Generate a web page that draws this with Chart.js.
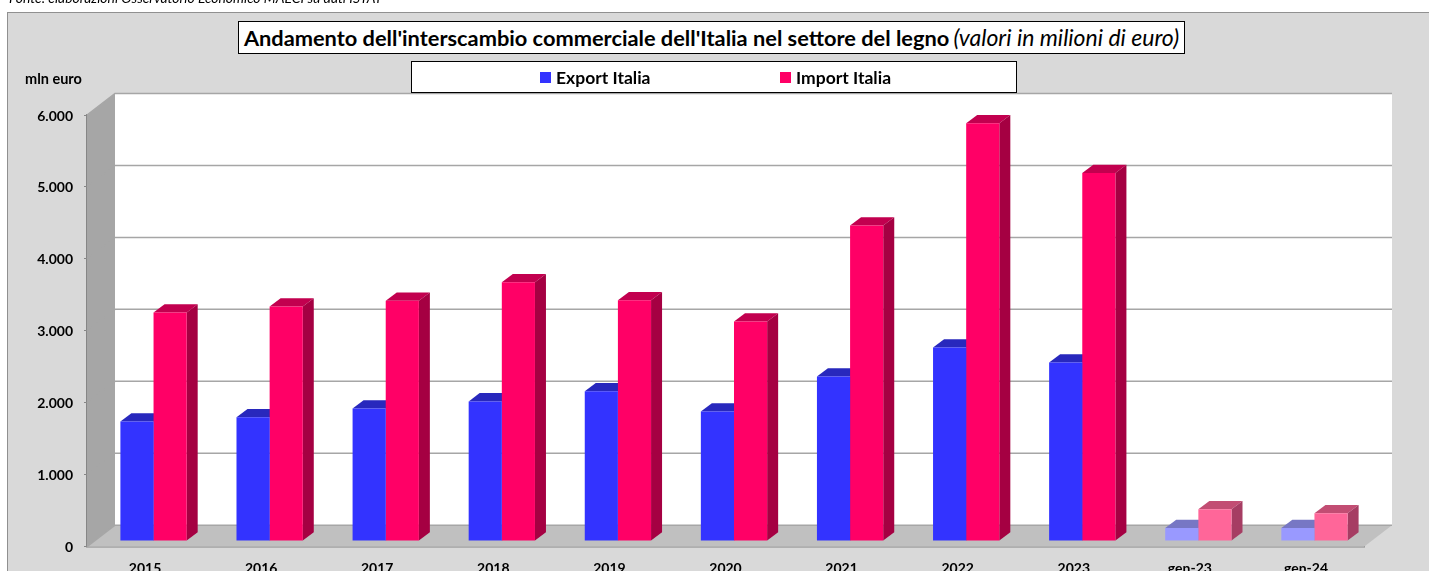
<!DOCTYPE html>
<html>
<head>
<meta charset="utf-8">
<script src="https://cdn.jsdelivr.net/npm/chart.js@4"></script>
<style>
  html, body { margin: 0; padding: 0; background: #fff; overflow: hidden; }
  #page { position: relative; width: 1429px; height: 571px; overflow: hidden; font-family: Lato, sans-serif; color: #000; }
  #frame { position: absolute; left: 7px; top: 12px; width: 1440px; height: 600px; background: #d9d9d9; border: 1px solid #909090; }
  #chart-wrap { position: absolute; left: 0; top: 0; width: 1429px; height: 571px; }
  #source { position: absolute; left: 9px; top: -11px; font-size: 13.9px; font-style: italic; white-space: nowrap; }
  #title { position: absolute; left: 238px; top: 21px; width: 945px; height: 31px; line-height: 31px; background: #fff; border: 1px solid #000; text-align: center; white-space: nowrap; }
  #title b { font-weight: 700; font-size: 21.8px; }
  #title i { font-weight: 400; font-size: 23px; }
  #legend { position: absolute; left: 411px; top: 61px; width: 604px; height: 30px; background: #fff; border: 1px solid #000; font-size: 17.5px; font-weight: 700; line-height: 32px; }
  .key { position: absolute; top: 0; white-space: nowrap; }
  .swatch { position: absolute; top: 10px; left: -16px; width: 11px; height: 11px; }
  #unit { position: absolute; left: 25px; top: 70px; font-size: 14.5px; font-weight: 700; white-space: nowrap; }
</style>
</head>
<body>
<div id="page">
  <div id="frame"></div>
  <div id="chart-wrap"><canvas id="chart" width="1429" height="571"></canvas></div>
  <div id="source">Fonte: elaborazioni Osservatorio Economico MAECI su dati ISTAT</div>
  <div id="title"><b>Andamento dell'interscambio commerciale dell'Italia nel settore del legno</b> <i>(valori in milioni di euro)</i></div>
  <div id="legend">
    <span class="key" style="left:144px"><span class="swatch" style="background:#3333ff"></span>Export Italia</span>
    <span class="key" style="left:384px"><span class="swatch" style="background:#ff0066"></span>Import Italia</span>
  </div>
  <div id="unit">mln euro</div>
</div>
<script>
// values, milioni di euro
const categories = ['2015', '2016', '2017', '2018', '2019', '2020', '2021', '2022', '2023', 'gen-23', 'gen-24']
const exportValues = [1660, 1720, 1840, 1940, 2080, 1800, 2285, 2690, 2480, 180, 180]
const importValues = [3175, 3260, 3340, 3595, 3345, 3050, 4385, 5805, 5115, 440, 385]
const yTickLabels = ['0', '1.000', '2.000', '3.000', '4.000', '5.000', '6.000']

// the last two categories (single months) are paler
const monthly = c => c.startsWith('gen')
const exportFront = categories.map(c => monthly(c) ? '#9999ff' : '#3333ff')
const importFront = categories.map(c => monthly(c) ? '#ff6699' : '#ff0066')
const exportTop = categories.map(c => monthly(c) ? '#7777c4' : '#2828bd')
const importTop = categories.map(c => monthly(c) ? '#c24d73' : '#c2004f')
const importSide = categories.map(c => monthly(c) ? '#a63d63' : '#a50042')

// fake 3d, excel style
const WALL_DX = 28, WALL_DY = -21.5   // front of the floor -> back wall
const BAR_DX = 8.5, BAR_DY = -5.7     // front of the floor -> front of the bars
const DEPTH_X = 11, DEPTH_Y = -8.3    // thickness of a bar

const poly = (ctx, pts, fill) => {
  ctx.beginPath()
  pts.forEach((p, i) => i ? ctx.lineTo(p[0], p[1]) : ctx.moveTo(p[0], p[1]))
  ctx.closePath()
  ctx.fillStyle = fill
  ctx.fill()
}

const box3d = {
  id: 'box3d',
  beforeDatasetsDraw(chart) {
    const { ctx, chartArea: a, scales: { y } } = chart
    ctx.save()
    const base = y.getPixelForValue(0)
    const top = y.getPixelForValue(6000)
    // back wall, side wall, floor
    poly(ctx, [[a.left + WALL_DX, top + WALL_DY], [a.right + WALL_DX, top + WALL_DY], [a.right + WALL_DX, base + WALL_DY], [a.left + WALL_DX, base + WALL_DY]], '#ffffff')
    poly(ctx, [[a.left, top], [a.left + WALL_DX, top + WALL_DY], [a.left + WALL_DX, base + WALL_DY], [a.left, base]], '#a6a6a6')
    poly(ctx, [[a.left, base], [a.left + WALL_DX, base + WALL_DY], [a.right + WALL_DX, base + WALL_DY], [a.right, base]], '#c0c0c0')
    // grid lines follow the walls
    ctx.lineWidth = 1.5
    ctx.strokeStyle = '#a6a6a6'
    y.ticks.forEach(t => {
      const py = y.getPixelForValue(t.value)
      ctx.beginPath()
      ctx.moveTo(a.left, py)
      ctx.lineTo(a.left + WALL_DX, py + WALL_DY)
      ctx.lineTo(a.right + WALL_DX, py + WALL_DY)
      ctx.stroke()
    })
    ctx.restore()

    // the bars sit a bit inside the floor
    ctx.save()
    ctx.translate(BAR_DX, BAR_DY)
    chart.data.datasets.forEach((ds, d) => {
      chart.getDatasetMeta(d).data.forEach((bar, i) => {
        const hw = bar.width / 2
        const l = bar.x - hw, r = bar.x + hw
        poly(ctx, [[l, bar.y], [l + DEPTH_X, bar.y + DEPTH_Y], [r + DEPTH_X, bar.y + DEPTH_Y], [r, bar.y]], ds.topColors[i])
        poly(ctx, [[r, bar.y], [r + DEPTH_X, bar.y + DEPTH_Y], [r + DEPTH_X, bar.base + DEPTH_Y], [r, bar.base]], ds.sideColors[i])
      })
    })
  },
  afterDatasetsDraw(chart) {
    chart.ctx.restore()
  }
}

const ctx = document.getElementById('chart').getContext('2d')

const chart = new Chart(ctx, {
  type: 'bar',
  data: {
    labels: categories,
    datasets: [{
      label: 'Export Italia',
      data: exportValues,
      backgroundColor: exportFront,
      topColors: exportTop,
      sideColors: exportTop,
      clip: false
    }, {
      label: 'Import Italia',
      data: importValues,
      backgroundColor: importFront,
      topColors: importTop,
      sideColors: importSide,
      clip: false
    }]
  },
  options: {
    responsive: false,
    animation: false,
    layout: { padding: { top: 115, right: 65, left: 0, bottom: 0 } },
    categoryPercentage: 0.571,
    barPercentage: 1,
    plugins: {
      legend: { display: false },
      title: { display: false },
      tooltip: { enabled: false }
    },
    scales: {
      x: {
        afterFit: s => { s.height = 24.3 },
        grid: { display: false },
        border: { color: '#868686', width: 1.5 },
        ticks: {
          color: '#000',
          padding: 5,
          maxRotation: 0,
          font: { family: 'Lato', size: 14, weight: 'bold' }
        }
      },
      y: {
        min: 0,
        max: 6000,
        afterFit: s => { s.width = 87 },
        grid: { drawOnChartArea: false, color: '#868686', tickLength: 3 },
        border: { color: '#868686', width: 1.5 },
        ticks: {
          stepSize: 1000,
          color: '#000',
          padding: 11,
          labelOffset: 1,
          callback: (v) => yTickLabels[v / 1000],
          font: { family: 'Lato', size: 14, weight: 'bold' }
        }
      }
    }
  },
  plugins: [box3d]
})
</script>
</body>
</html>
